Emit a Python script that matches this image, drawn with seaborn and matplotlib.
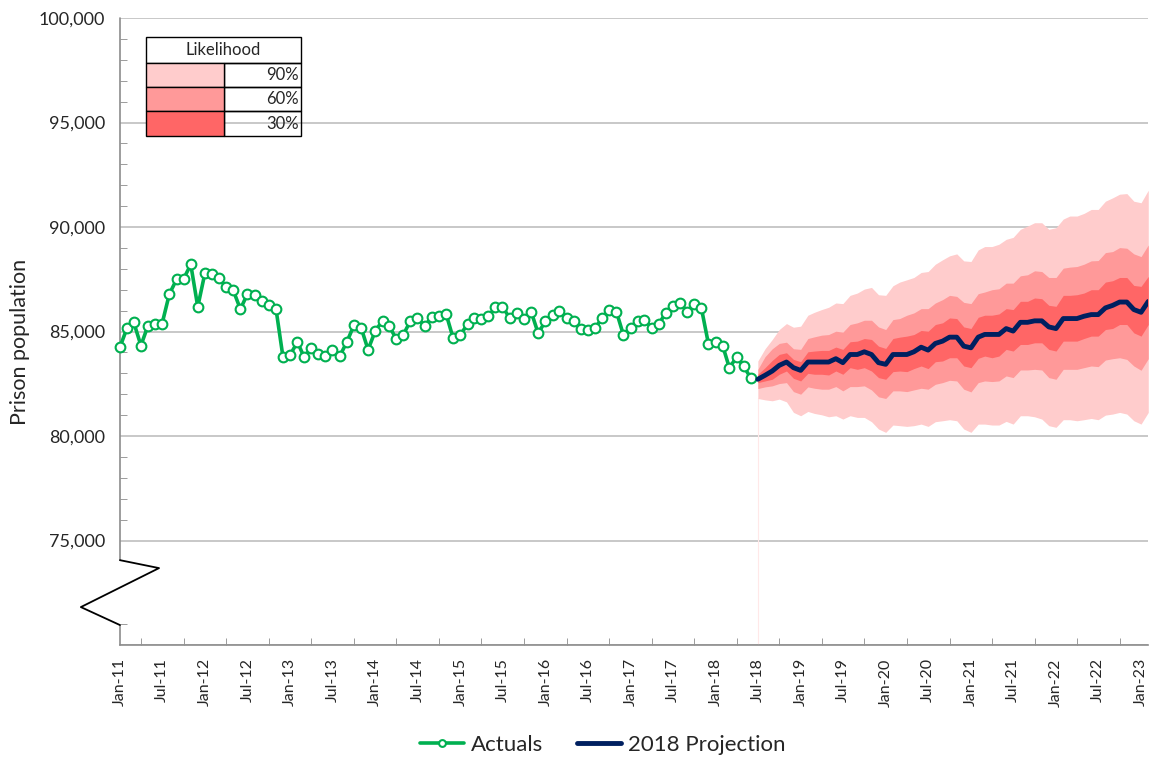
import matplotlib
matplotlib.use("Agg")
import matplotlib.pyplot as plt
import matplotlib.dates as mdates
import matplotlib.ticker as mticker
from matplotlib.patches import Rectangle
import seaborn as sns
import pandas as pd

# Monthly actuals, Jan-11 .. Jun-18
actuals = [
    84250, 85190, 85450, 84330, 85270, 85350, 85380, 86790, 87490, 87510, 88210, 86180,
    87810, 87750, 87560, 87110, 86980, 86070, 86790, 86750, 86480, 86290, 86070, 83760,
    83890, 84500, 83780, 84210, 83920, 83840, 84130, 83810, 84500, 85290, 85190, 84130,
    85030, 85510, 85270, 84650, 84840, 85510, 85640, 85270, 85690, 85760, 85840, 84690,
    84840, 85350, 85650, 85620, 85720, 86160, 86190, 85640, 85880, 85600, 85950, 84920,
    85480, 85800, 85990, 85640, 85480, 85130, 85080, 85160, 85640, 86030, 85950, 84840,
    85190, 85480, 85560, 85190, 85350, 85880, 86220, 86380, 85950, 86300, 86110, 84410,
    84520, 84290, 83260, 83780, 83330, 82780,
]

# 2018 projection, Jul-18 .. Feb-23
projection = [
    82715, 82905, 83110, 83380, 83540, 83270, 83140, 83540, 83540, 83540,
    83540, 83700, 83510, 83900, 83900, 84030, 83900, 83510, 83430, 83900,
    83900, 83900, 84030, 84250, 84110, 84430, 84540, 84730, 84730, 84300,
    84220, 84730, 84860, 84860, 84860, 85140, 85020, 85440, 85440, 85510,
    85510, 85220, 85140, 85620, 85620, 85620, 85730, 85810, 85810, 86130,
    86250, 86410, 86410, 86050, 85920, 86440,
]

upper_90 = [
    83590, 84175, 84620, 85095, 85380, 85205, 85255, 85780, 85920, 86050,
    86160, 86365, 86335, 86730, 86840, 87030, 87110, 86760, 86730, 87190,
    87365, 87475, 87585, 87825, 87870, 88220, 88430, 88620, 88715, 88380,
    88350, 88905, 89065, 89065, 89175, 89410, 89505, 89890, 90045, 90205,
    90205, 89890, 89965, 90380, 90525, 90525, 90650, 90840, 90840, 91235,
    91395, 91570, 91600, 91235, 91160, 91760,
]
upper_60 = [
    83190, 83795, 84175, 84430, 84490, 84175, 84145, 84665, 84745, 84825,
    84855, 85015, 84970, 85335, 85415, 85540, 85540, 85220, 85095, 85570,
    85620, 85780, 85890, 86095, 86095, 86365, 86525, 86730, 86680, 86395,
    86335, 86810, 86890, 87000, 87045, 87315, 87315, 87665, 87715, 87905,
    87870, 87585, 87585, 88030, 88080, 88110, 88220, 88380, 88395, 88775,
    88825, 89015, 88985, 88715, 88585, 89140,
]
upper_30 = [
    82955, 83270, 83620, 83905, 83985, 83665, 83555, 84030, 84065, 84095,
    84095, 84255, 84145, 84510, 84540, 84665, 84620, 84300, 84190, 84665,
    84730, 84780, 84855, 85050, 85015, 85335, 85415, 85650, 85620, 85220,
    85145, 85680, 85780, 85780, 85840, 86095, 86050, 86445, 86445, 86605,
    86570, 86255, 86205, 86730, 86730, 86760, 86840, 87000, 87000, 87365,
    87430, 87585, 87585, 87205, 87160, 87635,
]
lower_30 = [
    82555, 82635, 82715, 82955, 83110, 82760, 82635, 83000, 82955, 82955,
    82920, 83110, 82955, 83270, 83190, 83270, 83110, 82795, 82715, 83080,
    83110, 83080, 83225, 83350, 83225, 83555, 83590, 83745, 83745, 83350,
    83270, 83715, 83825, 83745, 83825, 84145, 84065, 84380, 84380, 84460,
    84460, 84145, 84065, 84540, 84540, 84540, 84665, 84780, 84780, 85095,
    85145, 85335, 85335, 84935, 84780, 85335,
]
lower_60 = [
    82270, 82350, 82400, 82510, 82555, 82125, 82000, 82350, 82285, 82240,
    82240, 82365, 82160, 82365, 82365, 82400, 82205, 81875, 81795, 82160,
    82160, 82125, 82205, 82285, 82240, 82475, 82555, 82665, 82635, 82240,
    82110, 82555, 82635, 82605, 82635, 82875, 82795, 83160, 83160, 83190,
    83160, 82795, 82715, 83190, 83190, 83190, 83270, 83350, 83320, 83635,
    83700, 83745, 83665, 83350, 83145, 83700,
]
lower_90 = [
    81795, 81730, 81685, 81765, 81635, 81130, 80970, 81175, 81080, 81015,
    80920, 80970, 80810, 80970, 80890, 80890, 80685, 80335, 80175, 80525,
    80495, 80460, 80495, 80570, 80460, 80685, 80730, 80780, 80730, 80335,
    80175, 80570, 80570, 80525, 80525, 80700, 80570, 80970, 80970, 80920,
    80810, 80495, 80415, 80780, 80780, 80730, 80780, 80840, 80780, 81000,
    81050, 81130, 81050, 80730, 80570, 81130,
]

likelihood_labels = ["90%", "60%", "30%"]

GREEN = "#00B050"
NAVY = "#002060"
band_colors = {"90%": "#FFCCCC", "60%": "#FF9999", "30%": "#FF6666"}
GRID = "#BFBFBF"
AXIS = "#8C8C8C"

actual_dates = pd.date_range("2011-01-01", periods=len(actuals), freq="MS")
proj_dates = pd.date_range("2018-07-01", periods=len(projection), freq="MS")
df_act = pd.DataFrame({"month": actual_dates, "population": actuals})
df_proj = pd.DataFrame({"month": proj_dates, "population": projection,
                        "up90": upper_90, "lo90": lower_90,
                        "up60": upper_60, "lo60": lower_60,
                        "up30": upper_30, "lo30": lower_30})

sns.set_style("white")
plt.rcParams["font.family"] = ["Lato", "DejaVu Sans"]

fig, ax = plt.subplots(figsize=(11.5, 7.6), dpi=100)
fig.subplots_adjust(left=0.1043, right=0.9985, top=0.9763, bottom=0.1513)

# fan bands
ax.fill_between(df_proj["month"], df_proj["lo90"], df_proj["up90"], color=band_colors["90%"], lw=0, zorder=2)
ax.fill_between(df_proj["month"], df_proj["lo60"], df_proj["up60"], color=band_colors["60%"], lw=0, zorder=2)
ax.fill_between(df_proj["month"], df_proj["lo30"], df_proj["up30"], color=band_colors["30%"], lw=0, zorder=2)
ax.vlines(proj_dates[0], 70000, lower_90[0], color="#FFE8E8", lw=0.8, zorder=1)

sns.lineplot(data=df_act, x="month", y="population", ax=ax, color=GREEN, lw=2.6,
             marker="o", markersize=7, markerfacecolor="white",
             markeredgecolor=GREEN, markeredgewidth=1.5, label="Actuals", zorder=4)
ax.lines[-1].set_clip_on(False)
sns.lineplot(data=df_proj, x="month", y="population", ax=ax, color=NAVY, lw=3.5,
             label="2018 Projection", zorder=5)

# axes
ax.set_ylim(70000, 100000)
ax.set_xlim(actual_dates[0], proj_dates[-1])
ax.yaxis.set_major_locator(mticker.MultipleLocator(5000))
ax.yaxis.set_minor_locator(mticker.FixedLocator(
    [71000] + [v for v in range(76000, 100000, 1000) if v % 5000]))
ax.yaxis.set_major_formatter(mticker.FuncFormatter(
    lambda v, p: "" if v < 75000 else f"{v:,.0f}"))
ax.xaxis.set_major_locator(mdates.MonthLocator(bymonth=[1, 7]))
ax.xaxis.set_minor_locator(mdates.MonthLocator(bymonth=[4, 10]))
ax.xaxis.set_major_formatter(mdates.DateFormatter("%b-%y"))

ax.grid(axis="y", which="major", color=GRID, lw=1.2, zorder=0)
ax.set_axisbelow(True)
ax.tick_params(axis="y", which="major", direction="out", length=7, color=AXIS, labelsize=13)
ax.tick_params(axis="y", which="minor", direction="in", length=5, color=AXIS, left=True)
ax.tick_params(axis="x", which="major", direction="out", length=6, color=AXIS, labelsize=11.5,
               labelrotation=90)
ax.tick_params(axis="x", which="minor", direction="in", length=5, color=AXIS, bottom=True)

for s in ["top", "right", "left"]:
    ax.spines[s].set_visible(False)
ax.spines["bottom"].set_color(AXIS)
ax.spines["bottom"].set_linewidth(1.2)

# broken y axis
yt = ax.get_yaxis_transform()
ax.plot([0, 0], [70000, 70955], color=AXIS, lw=1.2, transform=yt, clip_on=False)
ax.plot([0, 0], [74060, 100000], color=AXIS, lw=1.2, transform=yt, clip_on=False)
ax.plot([0, -0.038, 0.038, 0], [70955, 71815, 73680, 74060], color="black", lw=1.3,
        transform=yt, clip_on=False, zorder=6)

ax.set_xlabel("")
ax.set_ylabel("Prison population", fontsize=15.5)
ax.yaxis.set_label_coords(-0.087, 0.483)

# likelihood key
tx = ax.transAxes
x0, xm, x1 = 0.0252, 0.101, 0.1757
row_edges = [0.9697, 0.928, 0.890, 0.8517, 0.8118]
ax.add_patch(Rectangle((x0, row_edges[1]), x1 - x0, row_edges[0] - row_edges[1],
                       transform=tx, facecolor="white", edgecolor="black", lw=1, zorder=6))
ax.text((x0 + x1) / 2, (row_edges[0] + row_edges[1]) / 2, "Likelihood", transform=tx,
        ha="center", va="center", fontsize=12, zorder=7)
for i, lab in enumerate(likelihood_labels):
    top, bot = row_edges[i + 1], row_edges[i + 2]
    ax.add_patch(Rectangle((xm, bot), x1 - xm, top - bot, transform=tx,
                           facecolor="none", edgecolor="black", lw=1, zorder=6))
    ax.add_patch(Rectangle((x0, bot), xm - x0, top - bot, transform=tx,
                           facecolor=band_colors[lab], edgecolor="black", lw=1, zorder=6))
    ax.text(x1 - 0.002, (top + bot) / 2, lab, transform=tx, ha="right", va="center",
            fontsize=12, zorder=7)

handles, labels = ax.get_legend_handles_labels()
ax.legend_.remove()
fig.legend(handles, labels, loc="lower center", bbox_to_anchor=(0.524, -0.02), ncol=2,
           frameon=False, fontsize=16, handlelength=2.0, columnspacing=1.5,
           handletextpad=0.3, markerscale=0.7)

fig.savefig("out.png", dpi=100)
